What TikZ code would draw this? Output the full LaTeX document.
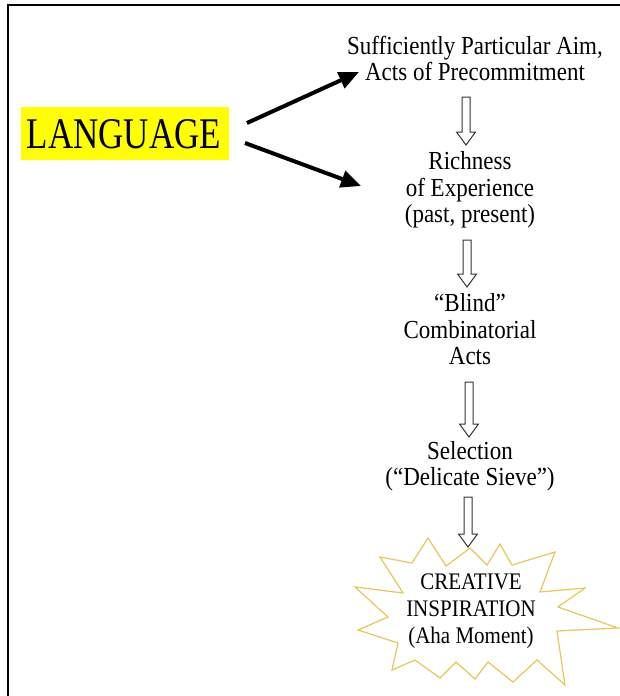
\documentclass[tikz,border=0pt]{standalone}
\usepackage{fontspec}
\setmainfont{Liberation Serif}
\usetikzlibrary{arrows.meta}
\definecolor{staryellow}{HTML}{E6C85A}
\definecolor{langyellow}{HTML}{FFFF00}
\newcommand\stretchtxt[1]{\scalebox{1}[1.13]{\begin{tabular}{@{}c@{}}#1\end{tabular}}}
\tikzset{
  txt/.style={align=center, inner sep=0pt, font=\fontsize{23}{23.4}\selectfont},
  startxt/.style={align=center, inner sep=0pt, font=\fontsize{21}{23.6}\selectfont},
  bigarrow/.style={line width=4pt, -{Triangle[length=20pt,width=17pt]}},
  hollow/.style={draw=black!80, line width=1pt, fill=white, line join=miter},
  frame/.style={line width=2.5pt},
  starline/.style={draw=staryellow, line width=1.2pt, fill=white, line join=miter}
}
\newcommand\hollowarrow[3]{%
  \draw[hollow] (#1-4,#2) -- (#1+4,#2) -- (#1+4,#3-13) -- (#1+9.5,#3-13) -- (#1,#3)
    -- (#1-9.5,#3-13) -- (#1-4,#3-13) -- cycle;}
\begin{document}
\begin{tikzpicture}[x=1pt,y=-1pt]
\useasboundingbox (0,0) rectangle (620,696);
% frame
\draw[frame] (8,700) -- (8,5) -- (625,5);
% language
\fill[langyellow] (21,107) rectangle (229,160);
\node[inner sep=0pt] (lang) at (124,134) {\scalebox{1}[1.25]{\fontsize{35}{40}\selectfont LANGUAGE}};
% texts
\node[txt] (aim) at (475,62) {\stretchtxt{Sufficiently Particular Aim,\\Acts of Precommitment}};
\node[txt] (rich) at (470,191) {\stretchtxt{Richness\\of Experience\\(past, present)}};
\node[txt] (blind) at (470,333) {\stretchtxt{``Blind''\\Combinatorial\\Acts}};
\node[txt] (sel) at (470,467) {\stretchtxt{Selection\\(``Delicate Sieve'')}};
% star
\draw[starline] (428,538) -- (446,566) -- (470,548) -- (487,565) -- (500,544) -- (512,565)
  -- (555,552) -- (540,592) -- (585,588) -- (558,607) -- (618,628) -- (557,631)
  -- (565,685) -- (537,660) -- (513,682) -- (488,662) -- (475,679) -- (456,662)
  -- (440,678) -- (415,660) -- (392,670) -- (398,643) -- (358,630) -- (388,617)
  -- (355,587) -- (403,593) -- (380,557) -- (412,563) -- cycle;
\node[startxt] (star) at (471,611) {\stretchtxt{CREATIVE\\INSPIRATION\\(Aha Moment)}};
% black arrows
\coordinate (s1) at (247,123);
\coordinate (t1) at (359,72);
\coordinate (s2) at (245,143);
\coordinate (t2) at (361,186);
\draw[bigarrow] (s1) -- (t1);
\draw[bigarrow] (s2) -- (t2);
% hollow arrows
\hollowarrow{466}{97}{145}
\hollowarrow{467}{240}{287}
\hollowarrow{469}{382}{437}
\hollowarrow{468}{497}{547}
\end{tikzpicture}
\end{document}
